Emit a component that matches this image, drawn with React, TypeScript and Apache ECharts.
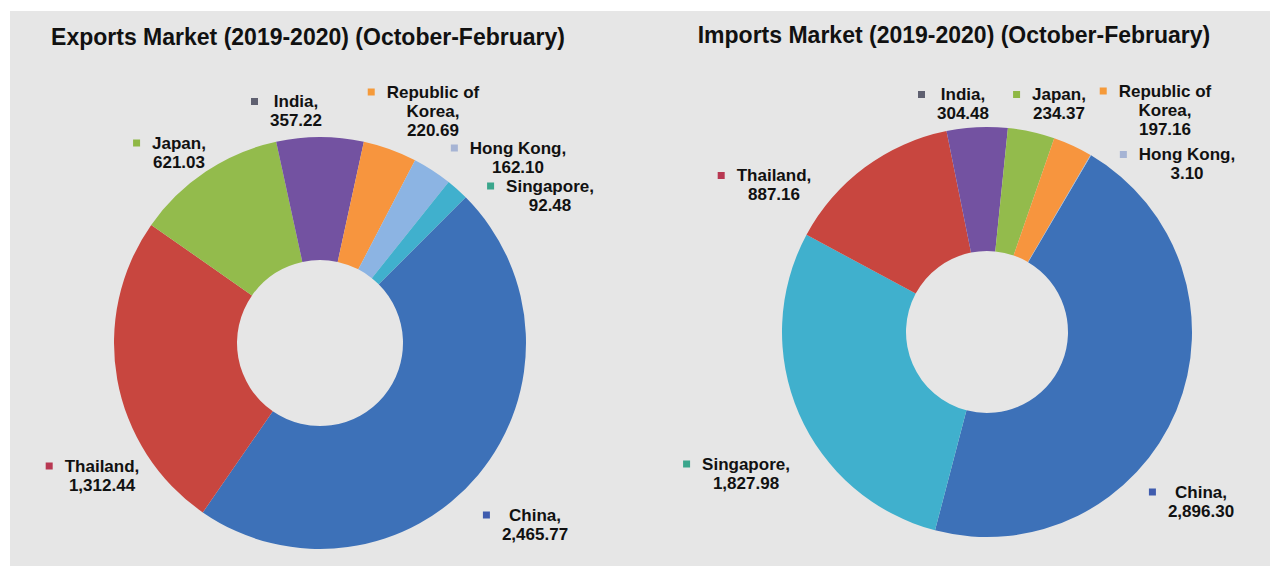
import React, { useEffect, useRef } from 'react';
import * as echarts from 'echarts';

// ---------- data ----------
const exportCountries = ['China', 'Thailand', 'Japan', 'India', 'Republic of Korea', 'Hong Kong', 'Singapore'];
const exportValues = [2465.77, 1312.44, 621.03, 357.22, 220.69, 162.1, 92.48];

const importCountries = ['China', 'Singapore', 'Thailand', 'India', 'Japan', 'Republic of Korea', 'Hong Kong'];
const importValues = [2896.3, 1827.98, 887.16, 304.48, 234.37, 197.16, 3.1];

const exportsTitle = 'Exports Market (2019-2020) (October-February)';
const importsTitle = 'Imports Market (2019-2020) (October-February)';

// ---------- styles / layout ----------
const sliceColors: Record<string, string> = {
  China: '#3d71b8',
  Thailand: '#c8463f',
  Japan: '#93bb4c',
  India: '#7352a1',
  'Republic of Korea': '#f7953e',
  'Hong Kong': '#8cb4e3',
  Singapore: '#40b0cd',
};
const markerColors: Record<string, string> = {
  China: '#3f5cae',
  Thailand: '#b83852',
  Japan: '#8fb845',
  India: '#5f6070',
  'Republic of Korea': '#f59a3a',
  'Hong Kong': '#a6b4d4',
  Singapore: '#3aa68c',
};

// label text-block centres (x, y) in page pixels, in data order
const exportLabelPos: [number, number][] = [
  [535, 524.5],
  [102, 475.5],
  [179, 152.5],
  [296, 111],
  [433, 111],
  [518, 157.5],
  [550, 195.5],
];
const importLabelPos: [number, number][] = [
  [1201, 501.5],
  [746, 473.5],
  [774, 185],
  [963, 104],
  [1059, 104],
  [1165, 110],
  [1187, 164],
];

const FONT = '"Liberation Sans", Arial, Helvetica, sans-serif';
const LABEL_SIZE = 17;
const LINE_H = 19;
const MARK = 7;
const GAP = 12;
const TEXT_COLOR = '#111111';

function fmt(v: number): string {
  return v.toLocaleString('en-US', { minimumFractionDigits: 2, maximumFractionDigits: 2 });
}

function nameLines(name: string): string[] {
  return name === 'Republic of Korea' ? ['Republic of', 'Korea,'] : [name + ','];
}

function buildData(names: string[], values: number[], measure: (s: string) => number) {
  return names.map((name, i) => {
    const lines = [...nameLines(name), fmt(values[i])];
    const widths = lines.map(measure);
    const block = Math.max(...widths);
    const g = GAP + (block - widths[0]) / 2;
    const rich: any = {
      m: { width: MARK, height: MARK, backgroundColor: markerColors[name], verticalAlign: 'middle' },
      g: { width: g, height: 1 },
      r: { width: MARK + g, height: 1 },
      t: {
        fontSize: LABEL_SIZE,
        fontWeight: 'bold',
        fontFamily: FONT,
        color: TEXT_COLOR,
        lineHeight: LINE_H,
      },
    };
    const text =
      `{m|}{g|}{t|${lines[0]}}{r|}\n` + lines.slice(1).map((l) => `{t|${l}}`).join('\n');
    return {
      name,
      value: values[i],
      itemStyle: { color: sliceColors[name] },
      label: { formatter: text, rich },
    };
  });
}

export default function App() {
  const ref = useRef<HTMLDivElement>(null);

  useEffect(() => {
    if (!ref.current) return;
    const canvas = document.createElement('canvas');
    const ctx = canvas.getContext('2d')!;
    ctx.font = `bold ${LABEL_SIZE}px "Liberation Sans"`;
    const measure = (s: string) => ctx.measureText(s).width;

    const chart = echarts.init(ref.current, undefined, { renderer: 'svg' });

    const titleStyle = {
      fontSize: 23,
      fontWeight: 'bold' as const,
      fontFamily: FONT,
      color: '#111111',
    };

    const pieCommon = {
      type: 'pie' as const,
      clockwise: true,
      avoidLabelOverlap: false,
      silent: true,
      label: { show: true, position: 'outside' as const, align: 'center' as const },
      labelLine: { show: false },
      itemStyle: { borderWidth: 0 },
      emphasis: { disabled: true },
    };

    chart.setOption({
      animation: false,
      backgroundColor: 'transparent',
      title: [
        { text: exportsTitle, left: 308, top: 25, textAlign: 'center', padding: 0, textStyle: titleStyle },
        { text: importsTitle, left: 954, top: 23, textAlign: 'center', padding: 0, textStyle: titleStyle },
      ],
      series: [
        {
          ...pieCommon,
          name: 'Exports',
          center: [320, 343],
          radius: [83, 206],
          startAngle: 45,
          data: buildData(exportCountries, exportValues, measure),
          labelLayout: (p: any) => ({
            x: exportLabelPos[p.dataIndex][0],
            y: exportLabelPos[p.dataIndex][1],
            align: 'center',
            verticalAlign: 'middle',
          }),
        },
        {
          ...pieCommon,
          name: 'Imports',
          center: [987, 332],
          radius: [81, 205],
          startAngle: 59.5,
          data: buildData(importCountries, importValues, measure),
          labelLayout: (p: any) => ({
            x: importLabelPos[p.dataIndex][0],
            y: importLabelPos[p.dataIndex][1],
            align: 'center',
            verticalAlign: 'middle',
          }),
        },
      ],
    });

    return () => chart.dispose();
  }, []);

  return (
    <div style={{ position: 'absolute', left: 0, top: 0, width: 1279, height: 569, background: '#ffffff' }}>
      <div
        style={{ position: 'absolute', left: 10, top: 11, width: 1260, height: 555, background: '#e6e6e6' }}
      />
      <div ref={ref} style={{ position: 'absolute', left: 0, top: 0, width: 1279, height: 569 }} />
    </div>
  );
}
